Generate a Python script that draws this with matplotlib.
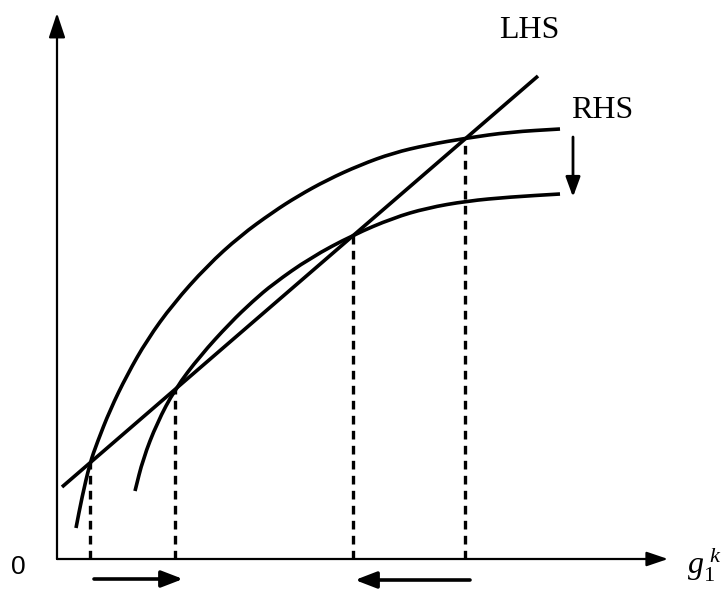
import matplotlib as mpl
mpl.use('Agg')
import matplotlib.pyplot as plt
from matplotlib.path import Path
from matplotlib.patches import PathPatch

# curves (origin at the axis corner, units ~ pixels)
rhs_hi_x = [19, 25, 33, 40, 53, 70, 90, 116, 150, 183, 216, 241, 270, 303, 336, 370, 410, 453, 503]
rhs_hi_y = [31, 62, 96, 116, 149, 184, 219, 255, 293, 323, 347, 363, 379, 394, 406, 414, 421, 427, 430]

rhs_lo_x = [78, 86, 100, 118, 143, 173, 196, 216, 253, 296, 336, 370, 410, 453, 503]
rhs_lo_y = [68, 100, 136, 170, 203, 236, 258, 275, 301, 324, 341, 351, 358, 362, 365]

lhs_x = [5, 481]
lhs_y = [72, 483]

# equilibria (intersections) -> dashed drop lines
eq_x = [33, 118, 296, 408]
eq_y = [96, 170, 324, 421]

mpl.rcParams['mathtext.fontset'] = 'custom'
mpl.rcParams['mathtext.rm'] = 'Liberation Serif'
mpl.rcParams['mathtext.it'] = 'Liberation Serif:italic'

fig = plt.figure(figsize=(7.25, 5.9), dpi=100)
ax = fig.add_axes([0, 0, 1, 1])
ax.set_xlim(-57, 668)
ax.set_ylim(-31, 559)
ax.axis('off')

lw = 2.6

def smooth_curve(xs, ys, lw):
    # quadratic bezier chain: read points are control points, midpoints on curve
    pts = list(zip(xs, ys))
    verts = [pts[0]]
    codes = [Path.MOVETO]
    mids = [((pts[i][0] + pts[i + 1][0]) / 2, (pts[i][1] + pts[i + 1][1]) / 2) for i in range(len(pts) - 1)]
    verts.append(mids[0])
    codes.append(Path.LINETO)
    for i in range(1, len(pts) - 1):
        verts += [pts[i], mids[i]]
        codes += [Path.CURVE3, Path.CURVE3]
    verts.append(pts[-1])
    codes.append(Path.LINETO)
    ax.add_patch(PathPatch(Path(verts, codes), fill=False, edgecolor='black', lw=lw, capstyle='butt'))

smooth_curve(rhs_hi_x, rhs_hi_y, lw)
smooth_curve(rhs_lo_x, rhs_lo_y, lw)
ax.plot(lhs_x, lhs_y, color='black', lw=lw, solid_capstyle='butt')

for x, y in zip(eq_x, eq_y):
    ax.plot([x, x], [0, y], color='black', lw=2.4, dashes=(2.6, 1.9))

def arrow(x0, y0, x1, y1, lw, hl=0.65, hw=0.25, ms=20):
    ax.annotate('', xy=(x1, y1), xytext=(x0, y0),
                arrowprops=dict(arrowstyle='-|>,head_length=%g,head_width=%g' % (hl, hw),
                                color='black', lw=lw, mutation_scale=ms,
                                shrinkA=0, shrinkB=0))

# axes
arrow(0, 0, 0, 546, 1.6, hl=0.75, hw=0.25)
arrow(0, 0, 611, 0, 1.6, hl=0.65, hw=0.22)

# shift arrows
arrow(37, -20, 126, -20, 2.6)
arrow(413, -21, 298, -21, 2.6)
arrow(516, 422, 516, 362, 2.0, hl=0.6, hw=0.22)

ax.text(472, 529, 'LHS', fontsize=23, family='Liberation Serif', ha='center', va='center')
ax.text(514, 448, 'RHS', fontsize=23, family='Liberation Serif', ha='left', va='center')
ax.text(-39, -8, '0', fontsize=19, family='Liberation Sans', ha='center', va='center')
ax.text(630, -15, r'$g_1^{\ k}$', fontsize=23, ha='left', va='baseline')

fig.savefig('out.png', dpi=100)
